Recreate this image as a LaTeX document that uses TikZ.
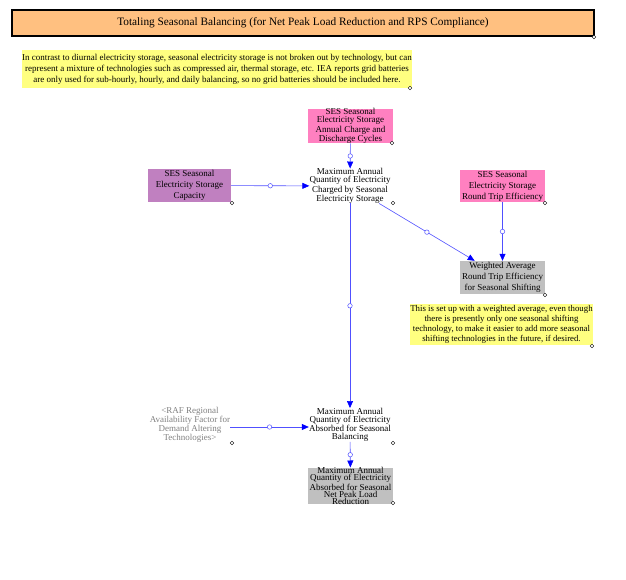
\documentclass[tikz,border=0pt]{standalone}
\usepackage{fontspec}
\setmainfont{Liberation Serif}
\usetikzlibrary{arrows.meta}

\definecolor{titleorange}{RGB}{255,192,128}
\definecolor{noteyellow}{RGB}{255,255,128}
\definecolor{constpink}{RGB}{255,128,192}
\definecolor{constpurple}{RGB}{192,128,192}
\definecolor{auxgray}{RGB}{192,192,192}
\definecolor{linkblue}{RGB}{80,80,255}

\tikzset{
  tight/.style={font=\fontsize{9}{8}\selectfont, align=center, inner sep=0pt},
  loose/.style={font=\fontsize{9}{11}\selectfont, align=center, inner sep=0pt},
  box/.style={minimum width=85pt, minimum height=32pt, inner sep=0pt},
  note/.style={fill=noteyellow, font=\fontsize{9}{11}\selectfont, align=center, inner sep=0pt},
  link/.style={draw=linkblue, line width=0.6pt, -{Triangle[length=7pt, width=6pt, fill=blue, color=blue]}},
  valve/.style={circle, draw=linkblue, fill=white, inner sep=0pt, minimum size=4.5pt, line width=0.5pt},
  handle/.style={draw=black, fill=white, line width=0.4pt}
}

\begin{document}
\begin{tikzpicture}[x=1pt, y=-1pt]
    \useasboundingbox (0,0) rectangle (626,580);

    \node[draw, line width=1.2pt, fill=titleorange, minimum width=582pt, minimum height=26pt, font=\fontsize{11.3}{13}\selectfont] (title) at (303,23) {Totaling Seasonal Balancing (for Net Peak Load Reduction and RPS Compliance)};

    \node[note, minimum width=390pt, minimum height=38pt] (note1) at (217,69) {In contrast to diurnal electricity storage, seasonal electricity storage is not broken out by technology, but can\\represent a mixture of technologies such as compressed air, thermal storage, etc. IEA reports grid batteries\\are only used for sub-hourly, hourly, and daily balancing, so no grid batteries should be included here.};

    \node[box, tight, fill=constpink] (cycles) at (350.5,126) {SES Seasonal\\Electricity Storage\\Annual Charge and\\Discharge Cycles};
    \node[box, loose, fill=constpurple, minimum width=83pt, minimum height=33pt] (capacity) at (189.5,185.5) {SES Seasonal\\Electricity Storage\\Capacity};
    \node[tight] (charged) at (350,186) {Maximum Annual\\Quantity of Electricity\\Charged by Seasonal\\Electricity Storage};
    \node[box, loose, fill=constpink] (rte) at (502.5,186) {SES Seasonal\\Electricity Storage\\Round Trip Efficiency};
    \node[box, loose, fill=auxgray, minimum height=33pt] (weighted) at (502.5,277.5) {Weighted Average\\Round Trip Efficiency\\for Seasonal Shifting};

    \node[note, minimum width=183pt, minimum height=41pt, font=\fontsize{8.8}{10}\selectfont] (note2) at (501.5,324.5) {This is set up with a weighted average, even though\\there is presently only one seasonal shifting\\technology, to make it easier to add more seasonal\\shifting technologies in the future, if desired.};

    \node[tight, text=gray] (raf) at (190,425) {<RAF Regional\\Availability Factor for\\Demand Altering\\Technologies>};
    \node[tight] (absorbed) at (350,425) {Maximum Annual\\Quantity of Electricity\\Absorbed for Seasonal\\Balancing};
    \node[box, fill=auxgray, font=\fontsize{9}{7}\selectfont, align=center] (netpeak) at (350.5,486) {Maximum Annual\\Quantity of Electricity\\Absorbed for Seasonal\\Net Peak Load\\Reduction};

    % links
    \draw[link] (cycles) -- node[valve] (v1) {} (charged);
    \draw[link] (capacity) -- node[valve] (v2) {} (charged);
    \draw[link] (charged) -- node[valve] (v3) {} (weighted);
    \draw[link] (rte) -- node[valve] (v4) {} (weighted);
    \draw[link] (charged) -- node[valve] (v5) {} (absorbed);
    \draw[link] (raf.east |- 0,427) -- node[valve] (v6) {} (absorbed.west |- 0,427);
    \draw[link] (absorbed) -- node[valve] (v7) {} (netpeak);

    % selection handles
    \foreach \x/\y in {594/37, 410/88, 392/143, 232/203, 393/203, 545/203, 545/295, 592/346, 232/443, 393/443, 393/503}
      \draw[handle] (\x,\y) circle (1.8);
\end{tikzpicture}
\end{document}
